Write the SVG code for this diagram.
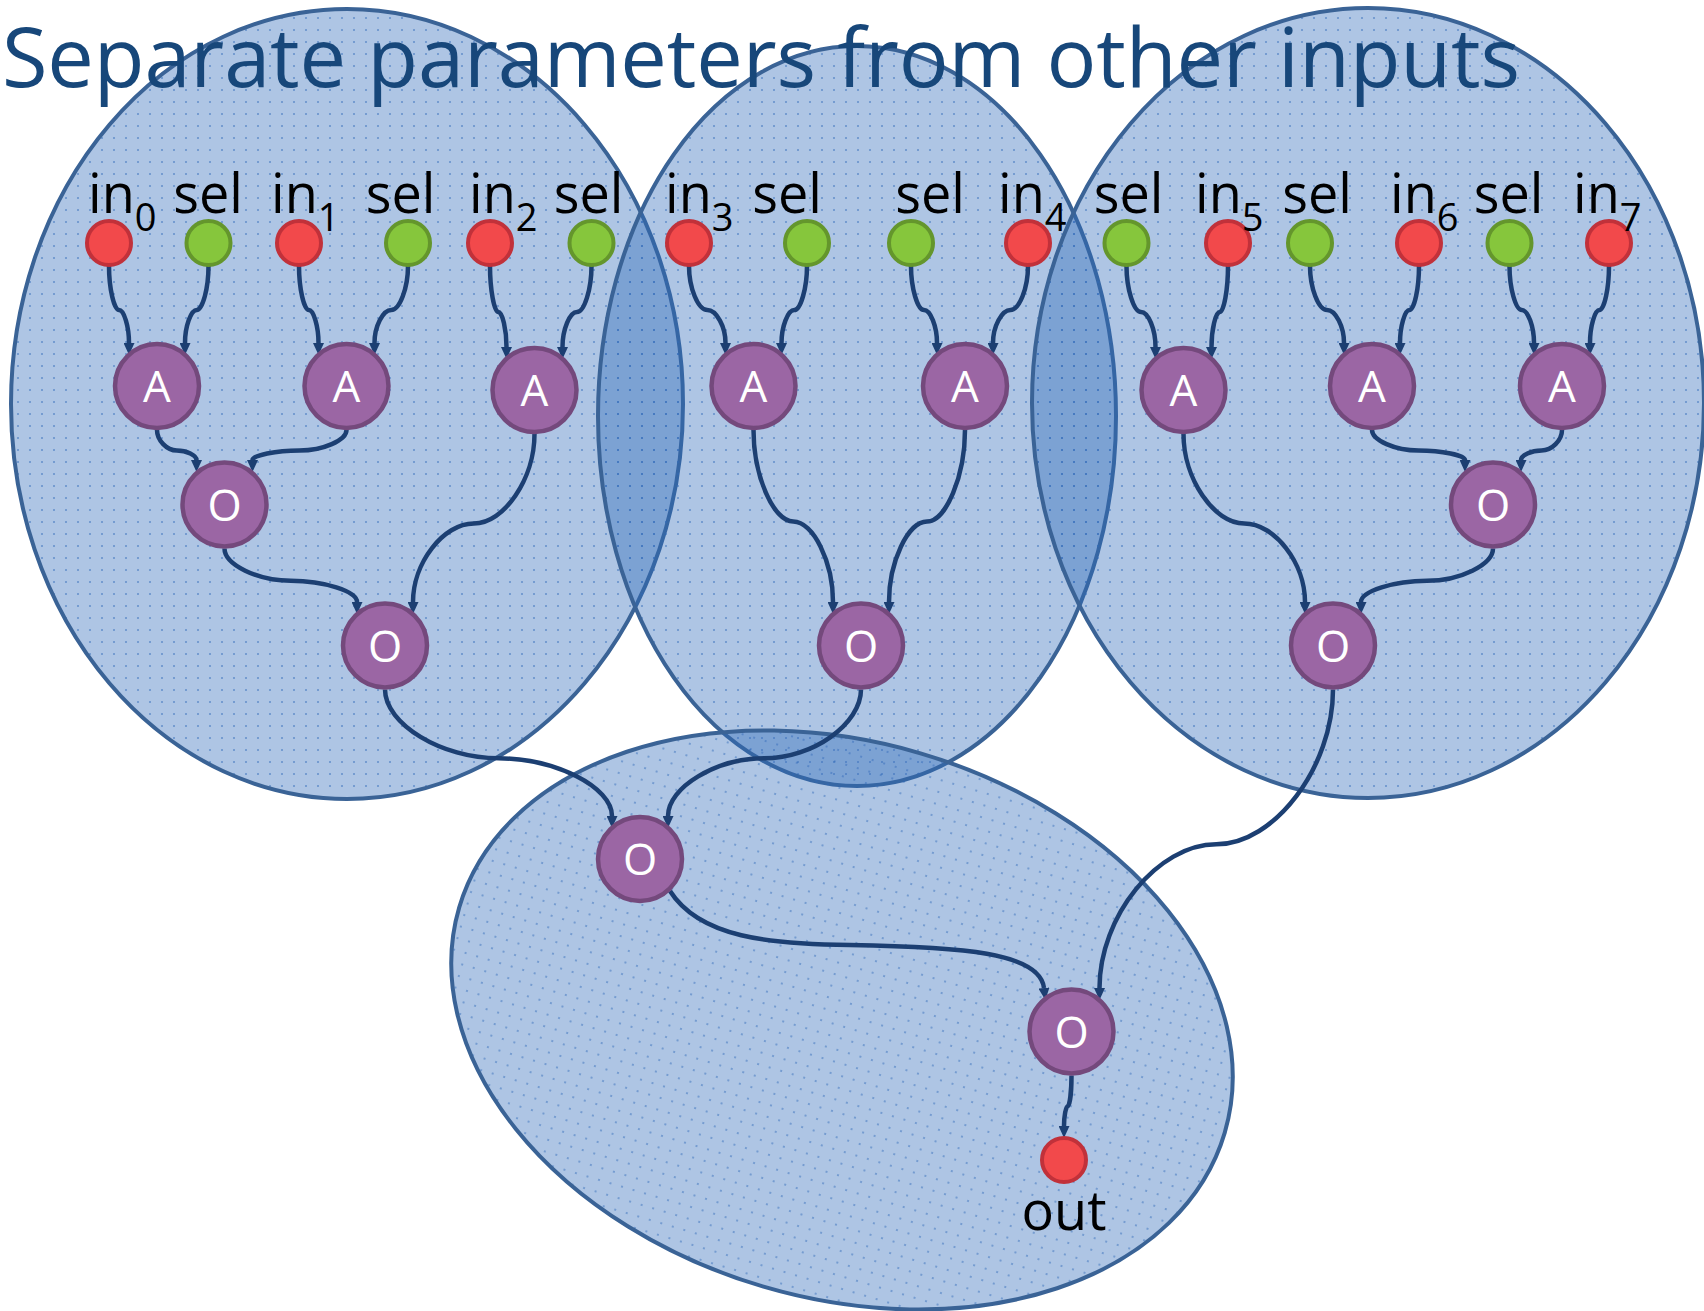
<svg xmlns="http://www.w3.org/2000/svg" width="1704" height="1311" viewBox="0 0 1704 1311">
<defs>
<pattern id="dots" width="12" height="12" patternUnits="userSpaceOnUse">
<rect width="12" height="12" fill="#2d68b8" fill-opacity="0.39"/>
<circle cx="6" cy="6" r="1.1" fill="#2d68b8" fill-opacity="0.55"/>
</pattern>
<marker id="arr" markerUnits="userSpaceOnUse" markerWidth="12" markerHeight="11" viewBox="0 0 12 11" refX="0" refY="5.5" orient="auto">
<path d="M0,0 L12,5.5 L0,11 z" fill="#1c3f72"/>
</marker>
<style>
.region{fill:url(#dots);stroke:#3a6396;stroke-width:4}
.conn path{fill:none;stroke:#1c3f72;stroke-width:4.5;marker-end:url(#arr)}
.gate circle{fill:#9b66a4;stroke:#74497c;stroke-width:4.5}
.gate text{font-family:"Open Sans","Noto Sans",sans-serif;font-size:44px;fill:#ffffff;text-anchor:middle}
.in circle{fill:#f2494b;stroke:#c1313a;stroke-width:4}
.sel circle{fill:#86c63c;stroke:#64962c;stroke-width:4}
.lbl{font-family:"Open Sans","Noto Sans",sans-serif;font-size:54px;fill:#000000}
.sub{font-size:38px}
.mid{text-anchor:middle}
</style>
</defs>
<rect width="1704" height="1311" fill="#ffffff"/>
<g id="regions">
<ellipse id="region-left" class="region" cx="347" cy="404" rx="336" ry="395"/>
<ellipse id="region-middle" class="region" cx="857" cy="416" rx="259" ry="370"/>
<ellipse id="region-right" class="region" cx="1368" cy="403" rx="336" ry="395"/>
<ellipse id="region-bottom" class="region" cx="842" cy="1020" rx="399" ry="278" transform="rotate(16.4 842 1020)"/>
</g>
<text id="title" x="2" y="87" textLength="1518" font-family="'Open Sans','Noto Sans',sans-serif" font-size="83" fill="#17477a">Separate parameters from other inputs</text>
<g id="connectors" class="conn">
<path d="M109 266 C109 288 114 310 119 310 C124 310 129 326.5 129 343"/>
<path d="M208.5 266 C208.5 288 202.6 310 196.8 310 C190.9 310 185 326.5 185 343"/>
<path d="M299 266 C299 288 303.9 310 308.8 310 C313.6 310 318.5 326.5 318.5 343"/>
<path d="M408 266 C408 288 399.6 310 391.3 310 C382.9 310 374.5 326.5 374.5 343"/>
<path d="M490 266 C490 289 494.1 312 498.3 312 C502.4 312 506.5 329.5 506.5 347"/>
<path d="M591.5 266 C591.5 289 584.3 312 577 312 C569.8 312 562.5 329.5 562.5 347"/>
<path d="M689 266 C689 288 698.1 310 707.3 310 C716.4 310 725.5 326.5 725.5 343"/>
<path d="M807 266 C807 288 800.6 310 794.3 310 C787.9 310 781.5 326.5 781.5 343"/>
<path d="M911 266 C911 288 917.5 310 924 310 C930.5 310 937 326.5 937 343"/>
<path d="M1028 266 C1028 288 1019.3 310 1010.5 310 C1001.8 310 993 326.5 993 343"/>
<path d="M1126.5 266 C1126.5 289 1133.8 312 1141 312 C1148.3 312 1155.5 329.5 1155.5 347"/>
<path d="M1228 266 C1228 289 1223.9 312 1219.8 312 C1215.6 312 1211.5 329.5 1211.5 347"/>
<path d="M1310 266 C1310 288 1318.5 310 1327 310 C1335.5 310 1344 326.5 1344 343"/>
<path d="M1419 266 C1419 288 1414.3 310 1409.5 310 C1404.8 310 1400 326.5 1400 343"/>
<path d="M1509.5 266 C1509.5 288 1515.6 310 1521.8 310 C1527.9 310 1534 326.5 1534 343"/>
<path d="M1609 266 C1609 288 1604.3 310 1599.5 310 C1594.8 310 1590 326.5 1590 343"/>
<path d="M157 430 C157 440.3 166.9 450.5 176.8 450.5 C186.6 450.5 196.5 455.3 196.5 460"/>
<path d="M346.5 430 C346.5 440.3 323 450.5 299.5 450.5 C276 450.5 252.5 455.3 252.5 460"/>
<path d="M224.5 548.5 C224.5 564.6 257.6 580.8 290.8 580.8 C323.9 580.8 357 591.4 357 602"/>
<path d="M534.5 434 C534.5 478.8 504.1 523.5 473.8 523.5 C443.4 523.5 413 562.8 413 602"/>
<path d="M753.5 430 C753.5 475.8 773.4 521.5 793.3 521.5 C813.1 521.5 833 561.8 833 602"/>
<path d="M965 430 C965 475.8 946 521.5 927 521.5 C908 521.5 889 561.8 889 602"/>
<path d="M1183.5 434 C1183.5 478.8 1213.9 523.5 1244.3 523.5 C1274.6 523.5 1305 562.8 1305 602"/>
<path d="M1372 430 C1372 440.3 1395.3 450.5 1418.5 450.5 C1441.8 450.5 1465 455.3 1465 460"/>
<path d="M1562 430 C1562 440.3 1551.8 450.5 1541.5 450.5 C1531.3 450.5 1521 455.3 1521 460"/>
<path d="M1493 548.5 C1493 564.6 1460 580.8 1427 580.8 C1394 580.8 1361 591.4 1361 602"/>
<path d="M385 689.5 C385 723.9 441.8 758.3 498.5 758.3 C555.3 758.3 612 787.1 612 816"/>
<path d="M861 689.5 C861 723.9 812.8 758.3 764.5 758.3 C716.3 758.3 668 787.1 668 816"/>
<path d="M670 891 C700 938 770 944 850 945 C960 947 1040 952 1044 988"/>
<path d="M1333 689.5 C1333 766.9 1274.6 844.3 1216.3 844.3 C1157.9 844.3 1099.5 916.1 1099.5 988"/>
<path d="M1071.5 1075.5 C1071.5 1090.9 1069.6 1106.3 1067.8 1106.3 C1065.9 1106.3 1064 1116.1 1064 1126"/>
</g>
<g id="in0" class="in"><circle cx="109" cy="243" r="22"/><text class="lbl" x="88" y="213">in<tspan class="sub" y="231">0</tspan></text></g>
<g id="sel0" class="sel"><circle cx="208.5" cy="243" r="22"/><text class="lbl mid" x="208" y="213">sel</text></g>
<g id="in1" class="in"><circle cx="299" cy="243" r="22"/><text class="lbl" x="271" y="213">in<tspan class="sub" y="231">1</tspan></text></g>
<g id="sel1" class="sel"><circle cx="408" cy="243" r="22"/><text class="lbl mid" x="400.5" y="213">sel</text></g>
<g id="in2" class="in"><circle cx="490" cy="243" r="22"/><text class="lbl" x="469" y="213">in<tspan class="sub" y="231">2</tspan></text></g>
<g id="sel2" class="sel"><circle cx="591.5" cy="243" r="22"/><text class="lbl mid" x="588.5" y="213">sel</text></g>
<g id="in3" class="in"><circle cx="689" cy="243" r="22"/><text class="lbl" x="665" y="213">in<tspan class="sub" y="231">3</tspan></text></g>
<g id="sel3" class="sel"><circle cx="807" cy="243" r="22"/><text class="lbl mid" x="787" y="213">sel</text></g>
<g id="sel4" class="sel"><circle cx="911" cy="243" r="22"/><text class="lbl mid" x="930" y="213">sel</text></g>
<g id="in4" class="in"><circle cx="1028" cy="243" r="22"/><text class="lbl" x="998" y="213">in<tspan class="sub" y="231">4</tspan></text></g>
<g id="sel5" class="sel"><circle cx="1126.5" cy="243" r="22"/><text class="lbl mid" x="1128.5" y="213">sel</text></g>
<g id="in5" class="in"><circle cx="1228" cy="243" r="22"/><text class="lbl" x="1195" y="213">in<tspan class="sub" y="231">5</tspan></text></g>
<g id="sel6" class="sel"><circle cx="1310" cy="243" r="22"/><text class="lbl mid" x="1317" y="213">sel</text></g>
<g id="in6" class="in"><circle cx="1419" cy="243" r="22"/><text class="lbl" x="1390" y="213">in<tspan class="sub" y="231">6</tspan></text></g>
<g id="sel7" class="sel"><circle cx="1509.5" cy="243" r="22"/><text class="lbl mid" x="1508.5" y="213">sel</text></g>
<g id="in7" class="in"><circle cx="1609" cy="243" r="22"/><text class="lbl" x="1573" y="213">in<tspan class="sub" y="231">7</tspan></text></g>
<g id="A1" class="gate"><circle cx="157" cy="386" r="42"/><text x="157" y="402">A</text></g>
<g id="A2" class="gate"><circle cx="346.5" cy="386" r="42"/><text x="346.5" y="402">A</text></g>
<g id="A3" class="gate"><circle cx="534.5" cy="390" r="42"/><text x="534.5" y="406">A</text></g>
<g id="A4" class="gate"><circle cx="753.5" cy="386" r="42"/><text x="753.5" y="402">A</text></g>
<g id="A5" class="gate"><circle cx="965" cy="386" r="42"/><text x="965" y="402">A</text></g>
<g id="A6" class="gate"><circle cx="1183.5" cy="390" r="42"/><text x="1183.5" y="406">A</text></g>
<g id="A7" class="gate"><circle cx="1372" cy="386" r="42"/><text x="1372" y="402">A</text></g>
<g id="A8" class="gate"><circle cx="1562" cy="386" r="42"/><text x="1562" y="402">A</text></g>
<g id="O1" class="gate"><circle cx="224.5" cy="504.5" r="42"/><text x="224.5" y="520.5">O</text></g>
<g id="O2" class="gate"><circle cx="385" cy="645.5" r="42"/><text x="385" y="661.5">O</text></g>
<g id="O3" class="gate"><circle cx="861" cy="645.5" r="42"/><text x="861" y="661.5">O</text></g>
<g id="O4" class="gate"><circle cx="1493" cy="504.5" r="42"/><text x="1493" y="520.5">O</text></g>
<g id="O5" class="gate"><circle cx="1333" cy="645.5" r="42"/><text x="1333" y="661.5">O</text></g>
<g id="O6" class="gate"><circle cx="640" cy="859" r="42"/><text x="640" y="875">O</text></g>
<g id="O7" class="gate"><circle cx="1071.5" cy="1031.5" r="42"/><text x="1071.5" y="1047.5">O</text></g>
<g id="out" class="in"><circle cx="1064" cy="1160" r="22"/><text class="lbl mid" x="1064" y="1230">out</text></g>
</svg>
